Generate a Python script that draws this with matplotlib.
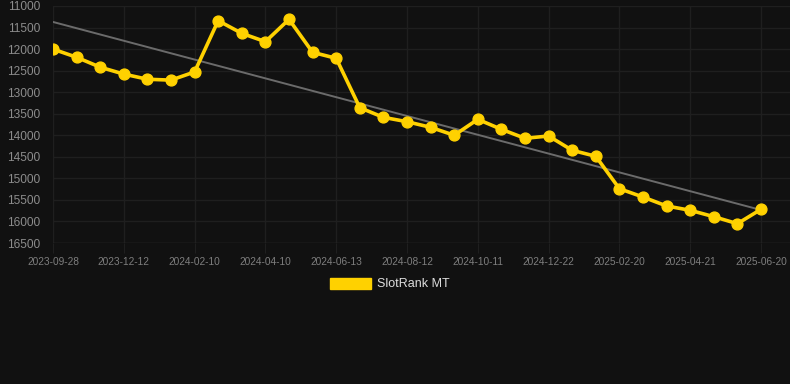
import numpy as np
import matplotlib
matplotlib.use("Agg")
import matplotlib.pyplot as plt
from matplotlib.patches import Patch

# rank values, one point per sample (x axis is categorical)
rank = [12000, 12190, 12420, 12580, 12700, 12720, 12530, 11340, 11635, 11828,
        11310, 12075, 12214, 13360, 13584, 13685, 13815, 14000, 13630, 13862,
        14070, 14017, 14349, 14488, 15240, 15433, 15641, 15741, 15889, 16052,
        15718]
# only every 3rd sample gets a date label
tick_labels = ["2023-09-28", "2023-12-12", "2024-02-10", "2024-04-10",
               "2024-06-13", "2024-08-12", "2024-10-11", "2024-12-22",
               "2025-02-20", "2025-04-21", "2025-06-20"]
y_ticks = [11000, 11500, 12000, 12500, 13000, 13500, 14000, 14500,
           15000, 15500, 16000, 16500]
series_name = "SlotRank MT"

BG = "#111111"
GRID = "#1f1f1f"
YELLOW = "#FFD100"

plt.rcParams['font.family'] = ['Liberation Sans', 'DejaVu Sans']

fig = plt.figure(figsize=(7.9, 3.84), dpi=100, facecolor=BG)
ax = fig.add_axes([53 / 790, 1 - 243 / 384, 1 - 53 / 790, 237 / 384])
ax.set_facecolor(BG)

x = np.arange(len(rank))

# linear trend over the series
k, b = np.polyfit(x, rank, 1)
ax.plot(x, k * x + b, color="#6b6b6b", lw=1.4, zorder=2)

ax.plot(x, rank, color=YELLOW, lw=2.6, marker="o", ms=7.8,
        markerfacecolor=YELLOW, markeredgecolor=YELLOW, zorder=3,
        solid_joinstyle="round")

ax.set_ylim(16500, 11000)
ax.set_xlim(0, 30 + (790 - 761) / 23.6)
ax.set_yticks(y_ticks)
ax.set_xticks(x[::3])
ax.set_xticklabels(tick_labels)

ax.grid(True, color=GRID, lw=1)
ax.set_axisbelow(True)
for s in ax.spines.values():
    s.set_visible(False)
ax.axhline(16500, color="#2a2a2a", lw=1, zorder=1)

ax.tick_params(axis="y", length=0, pad=9, labelsize=8.6, labelcolor="#8c8c8c")
ax.tick_params(axis="x", length=7, color=GRID, pad=3, labelsize=7.3,
               labelcolor="#7e7e7e")

leg = fig.legend(handles=[Patch(facecolor=YELLOW, edgecolor=YELLOW, label=series_name)],
                 loc="center", bbox_to_anchor=(390 / 790, 1 - 284 / 384),
                 frameon=False, handlelength=3.3, handleheight=1.0,
                 handletextpad=0.5, fontsize=9)
for t in leg.get_texts():
    t.set_color("#dddddd")

fig.savefig("out.png", dpi=100, facecolor=BG)
